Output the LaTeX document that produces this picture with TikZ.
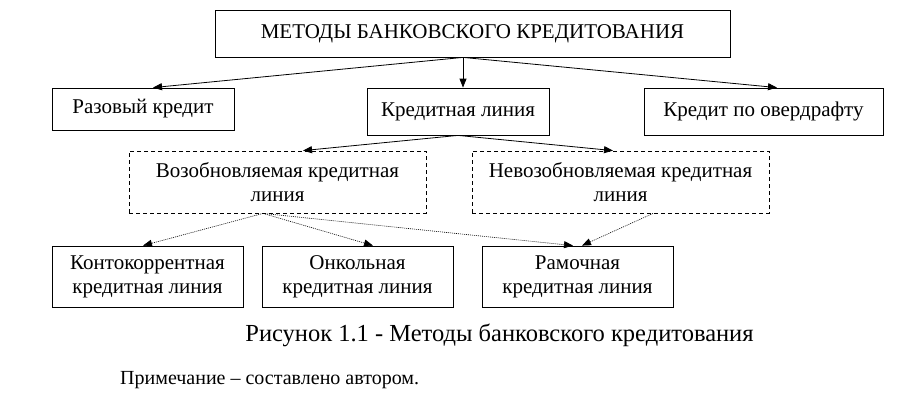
\documentclass[tikz,border=0pt]{standalone}
\usepackage{fontspec}
\setmainfont{Liberation Serif}
\usetikzlibrary{arrows.meta}
\begin{document}
\begin{tikzpicture}[x=1pt,y=-1pt,
  box/.style={draw, line width=0.8pt, inner sep=0pt, align=center, font=\fontsize{21}{24}\selectfont},
  dbox/.style={box, dash pattern=on 4pt off 3pt},
  arr/.style={draw, line width=0.8pt, -{Triangle[length=9pt,width=7pt]}},
  darr/.style={draw, line width=0.6pt, dash pattern=on 1pt off 1pt, -{Triangle[length=9pt,width=7pt]}}]
\path[fill=white] (0,0) rectangle (908,408);
\useasboundingbox (0,0) rectangle (908,408);

\node[box, minimum width=515pt, minimum height=47pt] (top) at (472.5,33.5) {МЕТОДЫ БАНКОВСКОГО КРЕДИТОВАНИЯ};
\node[box, minimum width=182pt, minimum height=42pt] (raz) at (143,109) {Разовый кредит};
\node[box, minimum width=182pt, minimum height=47pt] (kl) at (458,111.5) {Кредитная линия};
\node[box, minimum width=239pt, minimum height=47pt] (ov) at (763.5,111.5) {Кредит по овердрафту};
\node[dbox, minimum width=297pt, minimum height=62pt] (voz) at (277.5,182) {Возобновляемая кредитная\\линия};
\node[dbox, minimum width=297pt, minimum height=62pt] (nevoz) at (620.5,182) {Невозобновляемая кредитная\\линия};
\node[box, minimum width=191pt, minimum height=61pt] (kk) at (147.5,276.5) {Контокоррентная\\кредитная линия};
\node[box, minimum width=191pt, minimum height=61pt] (onk) at (357.5,276.5) {Онкольная\\кредитная линия};
\node[box, minimum width=191pt, minimum height=61pt] (ram) at (577.5,276.5) {Рамочная\\кредитная линия};

\node[inner sep=0pt, font=\fontsize{24.5}{28}\selectfont] (cap) at (499.5,335) {Рисунок 1.1 - Методы банковского кредитования};
\node[inner sep=0pt, anchor=west, font=\fontsize{20}{24}\selectfont] (note) at (120,380) {Примечание – составлено автором.};

\draw[arr] ([xshift=-9.5pt]top.south) -- ([xshift=10pt]raz.north);
\draw[arr] ([xshift=-9.5pt]top.south) -- ([xshift=5pt]kl.north);
\draw[arr] ([xshift=-9.5pt]top.south) -- ([xshift=13.5pt]ov.north);
\draw[arr] (kl.south) -- ([xshift=25.5pt]voz.north);
\draw[arr] (kl.south) -- ([xshift=-7.5pt]nevoz.north);
\draw[darr] ([xshift=-14.5pt]voz.south) -- ([xshift=-4.5pt]kk.north);
\draw[darr] ([xshift=-14.5pt]voz.south) -- ([xshift=15.5pt]onk.north);
\draw[darr] ([xshift=-14.5pt]voz.south) -- ([xshift=-4.5pt]ram.north);
\draw[darr] ([xshift=32.5pt]nevoz.south) -- ([xshift=4.5pt]ram.north);
\end{tikzpicture}
\end{document}
